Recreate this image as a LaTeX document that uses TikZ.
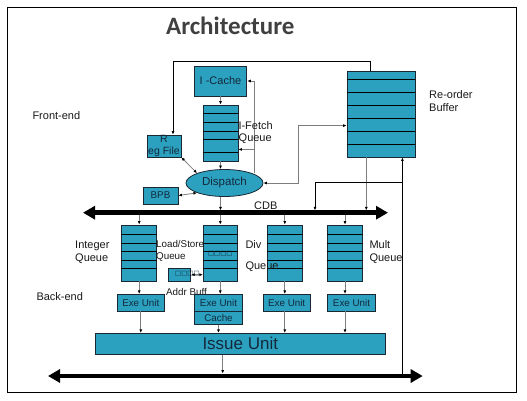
\documentclass[tikz,border=0pt]{standalone}
\usepackage{fontspec}
\setmainfont{Liberation Sans}
\newfontfamily\titlefont{Carlito}
\newfontfamily\boxglyphs{DejaVu Sans}
\usetikzlibrary{positioning,arrows.meta,shapes.geometric,calc}

\definecolor{unitfill}{RGB}{43,161,191}
\definecolor{unitline}{RGB}{25,40,50}
\definecolor{unittext}{RGB}{20,40,60}
\definecolor{wiregray}{RGB}{125,125,125}
\definecolor{titlegray}{RGB}{64,64,64}
\definecolor{tagtext}{RGB}{25,25,25}

\tikzset{
  unitbox/.style={draw=unitline, line width=0.8pt, fill=unitfill, inner sep=0pt, text=unittext, font=\fontsize{9.8}{11}\selectfont},
  queuebox/.style={unitbox, minimum width=35pt, minimum height=56pt},
  exebox/.style={unitbox, minimum height=16.7pt},
  rowline/.style={line width=0.8pt, draw=black},
  glyphs/.style={inner sep=0pt, text=unittext, font=\boxglyphs\fontsize{6.5}{7}\selectfont},
  tag/.style={inner sep=0pt, anchor=base west, text=tagtext, font=\fontsize{11}{13}\selectfont},
  smalltag/.style={tag, font=\fontsize{9.8}{11}\selectfont},
  link/.style={draw=wiregray, line width=0.8pt, -{Latex[length=3.5pt,width=3pt,color=black]}},
  duallink/.style={link, {Latex[length=3.5pt,width=3pt,color=black]}-{Latex[length=3.5pt,width=3pt,color=black]}},
  feedlink/.style={link, draw=black},
  bus/.style={line width=4.5pt, {Triangle[length=12pt,width=13pt]}-{Triangle[length=12pt,width=13pt]}}
}

\begin{document}
\begin{tikzpicture}[x=1pt,y=-1pt]
\useasboundingbox (0,0) rectangle (527,400);
% Slide frame and title
\draw[line width=0.8pt] (7,7) rectangle (516,392);
\node[anchor=base, inner sep=0pt, text=titlegray, font=\titlefont\bfseries\fontsize{25}{28}\selectfont] (title) at (230.3,34.3) {Architecture};

% Front-end units
\node[unitbox, font=\fontsize{11}{13}\selectfont, minimum width=52.7pt, minimum height=30pt] (icache) at (220.5,81) {I -Cache};
\node[unitbox, minimum width=35pt, minimum height=56pt] (ifq) at (220.5,133) {};
\foreach \d in {9,17.4,26.4,34.7,47.4}
  \draw[rowline] ($(ifq.north west)+(0,\d)$) -- ($(ifq.north east)+(0,\d)$);
\node[unitbox, minimum width=68pt, minimum height=86pt] (rob) at (381,114) {};
\foreach \d in {8.3,21.7,34.7,47.3,60.7,73.3}
  \draw[rowline] ($(rob.north west)+(0,\d)$) -- ($(rob.north east)+(0,\d)$);
\node[unitbox, align=center, font=\fontsize{10.5}{11.5}\selectfont, minimum width=34pt, minimum height=22pt] (regf) at (164,146) {R\\eg File};
\node[unitbox, minimum width=35pt, minimum height=17pt] (bpb) at (160.5,195.5) {BPB};
\node[unitbox, ellipse, font=\fontsize{11.5}{13}\selectfont, minimum width=77pt, minimum height=27pt] (disp) at (224.5,183) {Dispatch};

% Buses
\coordinate (cdbL) at (83,212.7);
\coordinate (cdbR) at (388,212.7);
\draw[bus] (cdbL) -- (cdbR);
\coordinate (cdbtop) at ($(cdbL)+(0,-2.3)$);
\coordinate (cdbbot) at ($(cdbL)+(0,2.3)$);
\coordinate (resL) at (48,376);
\coordinate (resR) at (422.7,376);
\draw[bus] (resL) -- (resR);
\coordinate (restop) at ($(resL)+(0,-2.3)$);

% Back-end units
\node[queuebox] (intq) at (139.2,253) {};
\node[queuebox, minimum width=34pt] (lsq) at (220.3,253) {};
\node[queuebox] (divq) at (284.8,253) {};
\node[queuebox, minimum width=35.4pt] (multq) at (345,253) {};
\foreach \q in {intq,lsq,divq,multq}
  \foreach \d in {9.3,18.3,26.7,35.7,44}
    \draw[rowline] ($(\q.north west)+(0,\d)$) -- ($(\q.north east)+(0,\d)$);
\node[exebox, minimum width=47pt] (intexe) at (140.8,302.7) {Exe Unit};
\node[exebox, minimum width=48.4pt] (lsexe) at (218.5,302.7) {Exe Unit};
\node[exebox, minimum width=48.4pt, minimum height=13.3pt, below=-0.8pt of lsexe] (cache) {Cache};
\node[exebox, minimum width=46.7pt] (divexe) at (286.7,302.7) {Exe Unit};
\node[exebox, minimum width=48.4pt] (multexe) at (351.5,302.7) {Exe Unit};
\node[unitbox, font=\fontsize{17}{19}\selectfont, minimum width=290.7pt, minimum height=21pt] (issue) at (240.3,343.8) {Issue Unit};
\node[unitbox, minimum width=22.4pt, minimum height=12.7pt] (abuf) at (179.5,274.7) {};
\node[glyphs] (lsqglyph) at (220.3,253.5) {□□□□};
\node[glyphs, anchor=west] (abufglyph) at (175,274) {□□□□};

% Front-end wiring
\draw[link] (icache.south) -- (ifq.north);
\draw[link] (ifq.south) -- (ifq.south |- disp.north);
\draw[duallink] (regf.south east) -- (disp.north west);
\draw[duallink] (bpb.east) -- (disp.south west);
\draw[link] (disp.south -| ifq.south) -- (ifq.south |- cdbtop);
\draw[duallink] (disp.east) -- ++(35,0) |- ($(rob.north west)+(0,55)$);
\path (disp.north east) ++(2.5,0) coordinate (fb);
\draw[link] (fb) |- (icache.east);
\coordinate (ifqin) at ($(ifq.south east)+(0,-12)$);
\draw[link] (fb |- ifqin) -- (ifqin);

% Re-order buffer wiring
\draw[feedlink] ($(rob.north west)+(23.7,0)$) -- ++(0,-9.3) -| ($(regf.north)+(9,0)$);
\coordinate (robout) at ($(rob.south west)+(19.7,0)$);
\draw[link] (robout) -- (robout |- cdbtop);
\coordinate (robin) at ($(rob.south east)+(-13,0)$);
\draw[feedlink] (robin |- restop) -- (robin);
\coordinate (cdbtap) at (315,210.4);
\draw[feedlink] ($(robin)+(0,25)$) -| (cdbtap);

% Back-end wiring
\foreach \q/\e in {intq/intexe, lsq/lsexe, divq/divexe, multq/multexe}{
  \draw[link] (\q.north |- cdbbot) -- (\q.north);
  \draw[link] (\q.south) -- (\q.south |- \e.north);
}
\draw[duallink] (abuf.east) -- (abuf.east -| lsq.west);
\draw[link] (intexe.south) -- (intexe.south |- issue.north);
\draw[link] (cache.south) -- (cache.south |- issue.north);
\draw[link] (divq.south |- divexe.south) -- (divq.south |- issue.north);
\draw[link] (multq.south |- multexe.south) -- (multq.south |- issue.north);
\coordinate (resin) at (222.7,373.6);
\draw[link] (issue.south -| resin) -- (resin);

% Labels
\node[tag] (frontend) at (32.3,119.5) {Front-end};
\node[tag] (robtag) at (429,98) {Re-order};
\node[tag] (robtagb) at (429,111.3) {Buffer};
\node[tag] (ifqtag) at (238.3,129) {I-Fetch};
\node[tag] (ifqtagb) at (238.5,141.7) {Queue};
\node[tag] (cdbtag) at (254,209) {CDB};
\node[tag] (inttag) at (75,248.5) {Integer};
\node[tag] (inttagb) at (75,261.5) {Queue};
\node[smalltag] (lstag) at (156,247.3) {Load/Store};
\node[smalltag] (lstagb) at (156,259.5) {Queue};
\node[tag] (divtag) at (245.3,248.3) {Div};
\node[tag] (divtagb) at (245.3,269) {Queue};
\node[tag] (multtag) at (369.3,248.3) {Mult};
\node[tag] (multtagb) at (369.3,261.5) {Queue};
\node[tag] (backend) at (36.3,300) {Back-end};
\node[smalltag] (abuftag) at (166,295) {Addr Buff};
\end{tikzpicture}
\end{document}
